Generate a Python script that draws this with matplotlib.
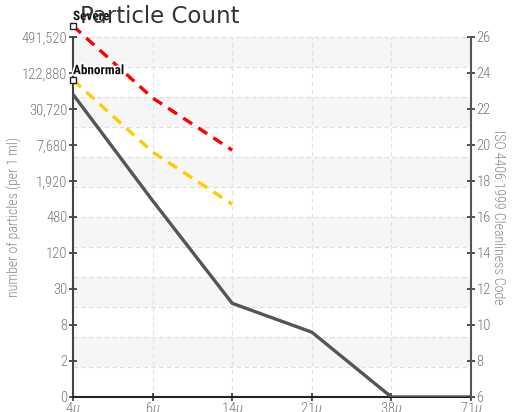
import matplotlib
matplotlib.use("Agg")
import matplotlib.pyplot as plt
import matplotlib.patheffects as pe
import numpy as np

# ---- data ----
sizes = ["4", "6", "14", "21", "38", "71"]
actual_code = [22.8, 16.9, 11.2, 9.6, 6.0, 6.0]
severe_code = [26.6, 22.6, 19.7]
abnormal_code = [23.6, 19.6, 16.7]
iso_ticks = [6, 8, 10, 12, 14, 16, 18, 20, 22, 24, 26]
count_labels = ["0", "2", "8", "30", "120", "480", "1,920", "7,680",
                "30,720", "122,880", "491,520"]
iso_labels = [str(v) for v in iso_ticks]

NARROW = ["Roboto Condensed", "DejaVu Sans"]
plt.rcParams["mathtext.fontset"] = "custom"
plt.rcParams["mathtext.it"] = "Roboto Condensed:italic:light"
plt.rcParams["mathtext.rm"] = "Roboto Condensed:light"

fig = plt.figure(figsize=(5.16, 4.12), dpi=100)
ax = fig.add_axes([73/516, 15/412, (471-73)/516, (397-36.7)/412])
ax.set_zorder(2)
ax.patch.set_visible(False)

x = np.arange(len(sizes))
ymin, ymax = 6, 26
ax.set_xlim(0, len(sizes) - 1)
ax.set_ylim(ymin, ymax)

# background bands and grid
grid_y = np.linspace(ymin, ymax, 13)
for i in range(12):
    if i % 2 == 1:
        ax.axhspan(grid_y[i], grid_y[i+1], color="#f6f6f6", zorder=0, lw=0)
for gy in grid_y[1:]:
    ax.axhline(gy, color="#dddddd", lw=0.8, ls=(0, (4, 3)), zorder=0.5)
for gx in x[1:-1]:
    ax.axvline(gx, color="#e2e2e2", lw=0.8, ls=(0, (4, 3)), zorder=0.5)

# series
ax.plot(x, actual_code, color="#555555", lw=2.4, zorder=3, solid_capstyle="butt")
ax.plot(x[:len(severe_code)], severe_code, color="#ff0000", lw=2.4,
        ls=(0, (3.2, 2.2)), zorder=3, clip_on=False)
ax.plot(x[:len(abnormal_code)], abnormal_code, color="#ffcc00", lw=2.4,
        ls=(0, (3.2, 2.2)), zorder=3, clip_on=False)
ax.plot([x[0]], [severe_code[0]], marker="s", ms=4.5, mfc="white", mec="#222222",
        mew=1, zorder=5, clip_on=False)
ax.plot([x[0]], [abnormal_code[0]], marker="s", ms=4.5, mfc="white", mec="#222222",
        mew=1, zorder=5, clip_on=False)

halo = [pe.withStroke(linewidth=2.5, foreground="white")]
ax.annotate("Severe", (x[0], severe_code[0]), xytext=(0, 2), textcoords="offset points",
            ha="left", va="bottom", fontsize=9.5, fontweight="bold", family=NARROW,
            color="#111111", path_effects=halo, annotation_clip=False, zorder=6)
ax.annotate("Abnormal", (x[0], abnormal_code[0]), xytext=(0, 2), textcoords="offset points",
            ha="left", va="bottom", fontsize=9.5, fontweight="bold", family=NARROW,
            color="#111111", path_effects=halo, annotation_clip=False, zorder=6)

# axes styling
ax.spines["top"].set_visible(False)
ax.spines["right"].set_visible(False)
ax.spines["left"].set_color("#444444")
ax.spines["left"].set_linewidth(1.5)
ax.spines["bottom"].set_color("#222222")
ax.spines["bottom"].set_linewidth(1.5)

ax.set_xticks(x)
ax.set_xticklabels([s + r"$\it{\mu}$" for s in sizes], family=NARROW, fontsize=10.5,
                   color="#777777", fontweight="light")
ax.set_yticks(iso_ticks)
ax.set_yticklabels(count_labels, family=NARROW, fontsize=10.5, color="#777777",
                   fontweight="light")
ax.tick_params(axis="both", direction="inout", length=6, width=1.2, color="#333333", pad=1)
ax.tick_params(axis="x", pad=-1)
ax.set_ylabel("number of particles (per 1 ml)", family=NARROW, fontsize=10,
              color="#888888", labelpad=0, fontweight="light")

ax2 = ax.twinx()
ax2.set_ylim(ymin, ymax)
ax2.set_yticks(iso_ticks)
ax2.set_yticklabels(iso_labels, family=NARROW, fontsize=10.5, color="#777777",
                    fontweight="light")
for s in ["top", "left", "bottom"]:
    ax2.spines[s].set_visible(False)
ax2.spines["right"].set_color("#555555")
ax2.spines["right"].set_linewidth(1.5)
ax2.tick_params(axis="y", direction="inout", length=6, width=1.2, color="#333333", pad=1)
ax2.set_ylabel("ISO 4406:1999 Cleanliness Code", family=NARROW, fontsize=10,
               color="#888888", rotation=270, labelpad=10, fontweight="light")

fig.text(80/516, 1 - 23/412, "Particle Count", fontsize=16.5, color="#333333",
         family="DejaVu Sans", ha="left", va="baseline", zorder=10)

fig.savefig("out.png", dpi=100)
